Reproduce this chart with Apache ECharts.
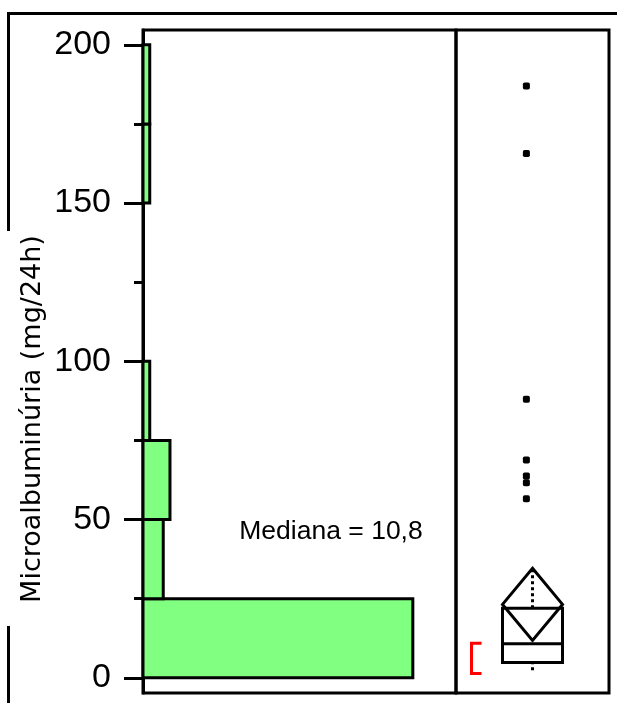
<!DOCTYPE html>
<html><head><meta charset="utf-8">
<script src="https://cdn.jsdelivr.net/npm/echarts@6/dist/echarts.min.js"></script>
<style>html,body{margin:0;padding:0;background:#fff}#c{width:617px;height:703px}</style>
</head><body><div id="c"></div>
<script>
// ---- data ----
const binLow = [0, 25, 50, 75, 100, 125, 150, 175];
const binHigh = [25, 50, 75, 100, 125, 150, 175, 200];
const binCounts = [40, 3, 4, 1, 0, 0, 1, 1];
const outlierValues = [187.0, 165.7, 88.0, 68.8, 63.8, 61.6, 56.6];
const boxQuartiles = [4.8, 10.8, 22.0];      // Q1, median, Q3
const whiskerEnds = [2.4, 34.5];             // low, high
const meanDiamond = [11.8, 23.2, 34.6];      // lower CI, mean, upper CI
const shortestHalf = [1.4, 10.9];
const yTickValues = [0, 50, 100, 150, 200];
const yMinorTickValues = [25, 75, 125, 175];
const yAxisTitle = 'Microalbuminúria (mg/24h)';
const medianText = 'Mediana = ' + String(boxQuartiles[1]).replace('.', ',');

// ---- chart ----
const Y_MIN = -4.8, Y_MAX = 204.7;
const chart = echarts.init(document.getElementById('c'), null, {renderer: 'canvas'});

const histData = binCounts.map((c, i) => [c, binLow[i], binHigh[i]]);

const option = {
  animation: false,
  backgroundColor: '#fff',
  grid: [
    {left: 143, top: 30, width: 313, height: 663, show: true, borderColor: '#000', borderWidth: 3, outerBoundsMode: 'none'},
    {left: 456, top: 30, width: 153, height: 663, show: true, borderColor: '#000', borderWidth: 3, outerBoundsMode: 'none'}
  ],
  xAxis: [
    {gridIndex: 0, type: 'value', min: 0, max: 46.4, show: false},
    {gridIndex: 1, type: 'value', min: 0, max: 1, show: false}
  ],
  yAxis: [
    {
      gridIndex: 0, type: 'value', min: Y_MIN, max: Y_MAX, position: 'left',
      axisLine: {show: true, lineStyle: {color: '#000', width: 3}},
      axisTick: {show: true, customValues: yTickValues, length: 19, lineStyle: {color: '#000', width: 3}},
      axisLabel: {show: true, customValues: yTickValues, margin: 32, color: '#000', fontSize: 34, fontFamily: '"Liberation Sans", Arial, sans-serif'},
      splitLine: {show: false}
    },
    {
      gridIndex: 0, type: 'value', min: Y_MIN, max: Y_MAX, position: 'left',
      axisLine: {show: false},
      axisTick: {show: true, customValues: yMinorTickValues, length: 9, lineStyle: {color: '#000', width: 3}},
      axisLabel: {show: false},
      splitLine: {show: false}
    },
    {gridIndex: 1, type: 'value', min: Y_MIN, max: Y_MAX, show: false, splitLine: {show: false}}
  ],
  series: [
    {
      type: 'custom', xAxisIndex: 0, yAxisIndex: 0,
      data: histData,
      encode: {x: 0, y: [1, 2]},
      renderItem: function (params, api) {
        const c = api.value(0), lo = api.value(1), hi = api.value(2);
        if (!(c > 0)) return null;
        const p0 = api.coord([0, hi]);
        const p1 = api.coord([c, lo]);
        return {
          type: 'rect',
          shape: {x: p0[0], y: p0[1], width: p1[0] - p0[0], height: p1[1] - p0[1]},
          style: {fill: '#80ff80', stroke: '#000', lineWidth: 3}
        };
      }
    },
    {
      type: 'scatter', xAxisIndex: 1, yAxisIndex: 2,
      data: outlierValues.map(v => [0.46, v]),
      symbol: 'roundRect', symbolSize: 7,
      itemStyle: {color: '#000', opacity: 1}
    },
    {
      type: 'custom', xAxisIndex: 1, yAxisIndex: 2,
      data: [[0.5, boxQuartiles[1]]],
      renderItem: function (params, api) {
        const cx = api.coord([0.5, 0])[0];
        const y = v => api.coord([0.5, v])[1];
        const hw = 30;
        const q1 = y(boxQuartiles[0]), med = y(boxQuartiles[1]), q3 = y(boxQuartiles[2]);
        const wl = y(whiskerEnds[0]), wh = y(whiskerEnds[1]);
        const dLo = y(meanDiamond[0]), dMean = y(meanDiamond[1]), dHi = y(meanDiamond[2]);
        const sLo = y(shortestHalf[0]), sHi = y(shortestHalf[1]);
        const black = {stroke: '#000', lineWidth: 3, fill: null};
        const dotted = {stroke: '#000', lineWidth: 3, lineDash: [3, 3], fill: null};
        const bx = cx - 61;
        return {
          type: 'group',
          children: [
            {type: 'line', shape: {x1: cx, y1: q3, x2: cx, y2: wh}, style: dotted},
            {type: 'line', shape: {x1: cx, y1: wl, x2: cx, y2: q1}, style: dotted},
            {type: 'rect', shape: {x: cx - hw, y: q3, width: 2 * hw, height: q1 - q3}, style: black},
            {type: 'line', shape: {x1: cx - hw, y1: med, x2: cx + hw, y2: med}, style: black},
            {type: 'polygon', shape: {points: [[cx, dHi], [cx + hw, dMean], [cx, dLo], [cx - hw, dMean]]}, style: black},
            {type: 'polyline', shape: {points: [[bx + 10, sHi], [bx, sHi], [bx, sLo], [bx + 10, sLo]]}, style: {stroke: '#ff0000', lineWidth: 3, fill: null}}
          ]
        };
      }
    }
  ],
  graphic: [
    {type: 'line', shape: {x1: 7, y1: 13.5, x2: 617, y2: 13.5}, style: {stroke: '#000', lineWidth: 3}},
    {type: 'line', shape: {x1: 8.5, y1: 12, x2: 8.5, y2: 231}, style: {stroke: '#000', lineWidth: 3}},
    {type: 'line', shape: {x1: 8.5, y1: 626, x2: 8.5, y2: 703}, style: {stroke: '#000', lineWidth: 3}},
    {
      type: 'text', x: 33, y: 419, rotation: Math.PI / 2,
      style: {text: yAxisTitle, font: '27px "DejaVu Sans"', fill: '#000', align: 'center', verticalAlign: 'middle', textAlign: 'center', textVerticalAlign: 'middle'}
    },
    {
      type: 'text', x: 331, y: 532,
      style: {text: medianText, font: '26.5px "Liberation Sans"', fill: '#000', align: 'center', verticalAlign: 'middle', textAlign: 'center', textVerticalAlign: 'middle'}
    }
  ]
};
chart.setOption(option);
</script>
</body></html>
